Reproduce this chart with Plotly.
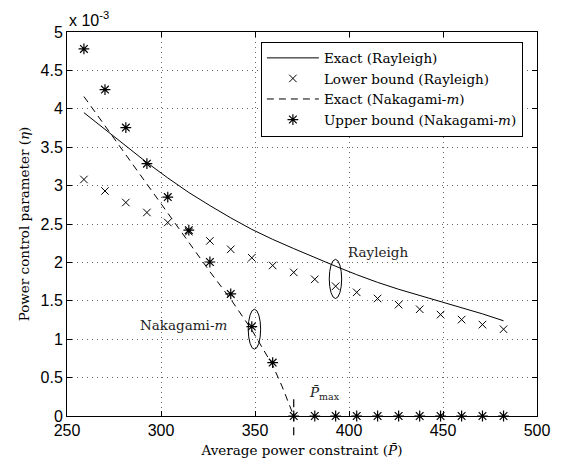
import plotly.graph_objects as go

# Average power constraint values (x)
p_avg = [259.0, 270.2, 281.3, 292.5, 303.6, 314.8, 326.0, 337.1, 348.3, 359.4,
         370.6, 381.8, 392.9, 404.1, 415.2, 426.4, 437.6, 448.7, 459.9, 471.0, 482.2]

# values in units of 1e-3
exact_rayleigh = [3.95, 3.73, 3.51, 3.30, 3.10, 2.91, 2.74, 2.58, 2.43, 2.30,
                  2.18, 2.06, 1.95, 1.84, 1.74, 1.65, 1.57, 1.49, 1.41, 1.33, 1.24]
lower_rayleigh = [3.08, 2.93, 2.78, 2.65, 2.52, 2.40, 2.28, 2.17, 2.06, 1.96,
                  1.87, 1.78, 1.69, 1.61, 1.53, 1.45, 1.39, 1.32, 1.255, 1.19, 1.13]
p_naka = [259.0, 270.2, 281.3, 292.5, 303.6, 314.8, 326.0, 337.1, 348.3, 359.4, 364.5, 370.6]
exact_naka = [4.16, 3.78, 3.40, 3.02, 2.64, 2.26, 1.88, 1.52, 1.12, 0.66, 0.38, 0.0]
upper_naka = [4.78, 4.25, 3.755, 3.285, 2.85, 2.42, 2.005, 1.59, 1.165, 0.695,
              0, 0, 0, 0, 0, 0, 0, 0, 0, 0, 0]
p_max = 370.6

x_ticks = [250, 300, 350, 400, 450, 500]
y_ticks = [0, 0.5, 1, 1.5, 2, 2.5, 3, 3.5, 4, 4.5, 5]

SERIF = "DejaVu Serif"
SANS = "Liberation Sans"
SF = 13.5

fig = go.Figure()
fig.add_trace(go.Scatter(x=p_avg, y=exact_rayleigh, mode="lines",
                         line=dict(color="black", width=1),
                         name="Exact (Rayleigh)"))
fig.add_trace(go.Scatter(x=p_avg, y=lower_rayleigh, mode="markers",
                         marker=dict(symbol="x-thin-open", size=7.5, color="black",
                                     line=dict(color="black", width=1)),
                         name="Lower bound (Rayleigh)"))
fig.add_trace(go.Scatter(x=p_naka, y=exact_naka, mode="lines",
                         line=dict(color="black", width=1, dash="7px,5px"),
                         name="Exact (Nakagami-<i>m</i>)"))
fig.add_trace(go.Scatter(x=p_avg, y=upper_naka, mode="markers", cliponaxis=False,
                         marker=dict(symbol="asterisk-open", size=9, color="black",
                                     line=dict(color="black", width=1.2)),
                         name="Upper bound (Nakagami-<i>m</i>)"))

# ellipses
fig.add_shape(type="circle", xref="x", yref="y", x0=389.5, x1=396.1, y0=1.53, y1=2.04,
              line=dict(color="black", width=1))
fig.add_shape(type="circle", xref="x", yref="y", x0=346.4, x1=353.0, y0=0.87, y1=1.39,
              line=dict(color="black", width=1))
# Pmax marker line
fig.add_shape(type="line", xref="paper", yref="paper",
              x0=(p_max - 250) / 250, x1=(p_max - 250) / 250, y0=-0.05, y1=0.05,
              line=dict(color="black", width=1.2, dash="8px,6px"))

fig.add_annotation(x=415.2, y=2.135, xref="x", yref="y", text="Rayleigh", showarrow=False,
                   font=dict(family=SERIF, size=SF, color="#222"))
fig.add_annotation(x=312, y=1.18, xref="x", yref="y", text="Nakagami-<i>m</i>", showarrow=False,
                   font=dict(family=SERIF, size=SF, color="#222"))
fig.add_annotation(x=386.7, y=0.30, xref="x", yref="y", text="<i>P\u0304</i><sub>max</sub>",
                   showarrow=False, font=dict(family=SERIF, size=SF, color="#222"))
fig.add_annotation(x=0, y=1.0, xref="paper", yref="paper", xanchor="left", yanchor="bottom",
                   yshift=1, text="x 10<sup>-3</sup>", showarrow=False,
                   font=dict(family=SANS, size=16, color="black"))

axis_common = dict(showline=True, linecolor="black", linewidth=1, mirror="ticks",
                   ticks="inside", ticklen=5, tickcolor="black",
                   showgrid=True, gridcolor="#666", griddash="1px,4px", gridwidth=1,
                   zeroline=False, automargin=False,
                   tickfont=dict(family=SANS, size=16, color="black"))

fig.update_xaxes(range=[250, 500], tickvals=x_ticks,
                 title=dict(text="Average power constraint (<i>P\u0304</i>)",
                            font=dict(family=SERIF, size=SF, color="black"), standoff=7),
                 **axis_common)
fig.update_yaxes(range=[0, 5], tickvals=y_ticks,
                 ticktext=[("%g" % v) for v in y_ticks],
                 title=dict(text="Power control parameter (<i>\u03b7</i>)",
                            font=dict(family=SERIF, size=SF, color="black"), standoff=7),
                 **axis_common)

fig.update_layout(
    width=578, height=465,
    margin=dict(l=67, r=41, t=32, b=49),
    plot_bgcolor="white", paper_bgcolor="white",
    showlegend=True,
    legend=dict(x=0.970, y=0.975, xanchor="right", yanchor="top",
                bgcolor="white", bordercolor="black", borderwidth=1,
                font=dict(family=SERIF, size=SF, color="black"),
                tracegroupgap=0, itemwidth=52),
)

fig.write_html("out.html", config={"displayModeBar": False},
               post_script="document.body.style.margin='0';document.body.style.overflow='hidden';")
